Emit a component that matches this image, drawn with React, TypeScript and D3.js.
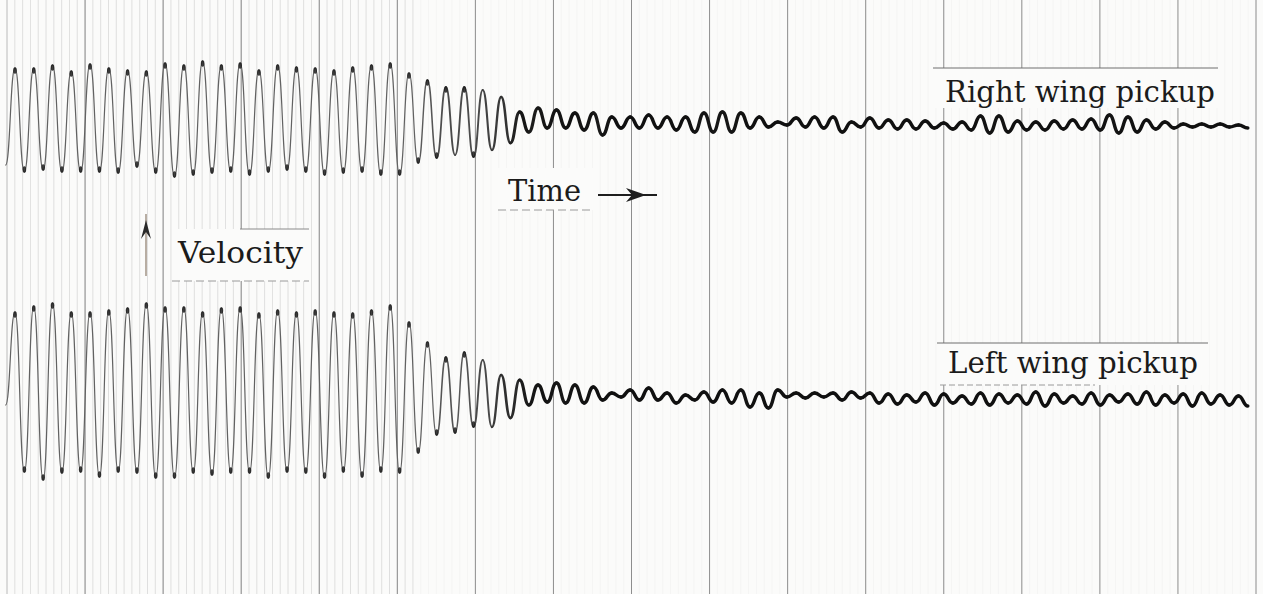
import * as d3 from "d3";

const W = 1263;
const H = 594;

// Deflection at each peak / trough of the oscillation (record units, + = up).
// Right wing pickup (upper trace): peaks for cycles 0..66
const rightPeaks = [
  52, 52, 55, 49, 56, 52, 50, 49, 57, 55, 59, 55, 57, 50, 55, 53, 52, 50, 53, 55, 57, 47,
  40, 33, 33, 30, 23, 8, 12, 10, 7, 7, 3, 3, 5, 3, 3, 7, 8, 7, 3, -2, 2, 3, 3, -2, 2,
  0, 0, -1, -3, -2, 4, 4, -1, -2, -1, 0, 1, 5, 3, 0, -2, -4, -4, -4, -5,
];
// troughs for half-cycles -0.5..66.5 (first value = start of the trace)
const rightTroughs = [
  -45,
  -52, -50, -52, -52, -52, -53, -47, -53, -57, -55, -53, -52, -55, -52, -50, -52, -55, -53, -52, -55, -55,
  -43, -38, -35, -37, -30, -23, -12, -8, -8, -10, -15, -8, -8, -8, -10, -12, -12, -12, -8, -7, -5, -7, -8, -12, -7,
  -8, -9, -9, -8, -9, -10, -13, -12, -10, -10, -9, -9, -10, -13, -12, -9, -8, -7, -7, -7, -8,
];

// Left wing pickup (lower trace)
const leftPeaks = [
  88, 94, 97, 88, 88, 90, 92, 97, 93, 93, 88, 92, 93, 87, 90, 88, 90, 88, 87, 90, 95, 78,
  58, 43, 48, 40, 25, 20, 15, 17, 15, 13, 7, 10, 12, 7, 5, 8, 10, 10, 7, 10, 7, 7, 7, 8, 7,
  6, 5, 7, 6, 4, 7, 6, 5, 8, 6, 4, 7, 5, 6, 8, 5, 6, 7, 5, 4,
];
const leftTroughs = [
  -5,
  -72, -80, -73, -72, -77, -72, -73, -78, -78, -73, -75, -73, -73, -78, -72, -73, -78, -72, -77, -72, -73,
  -53, -35, -33, -27, -27, -18, -5, -2, -3, -3, 0, 3, 0, 0, -3, 0, -2, -3, -7, -8, 3, 2, 3, 0, 2,
  -3, -4, -2, -5, -3, -4, -5, -3, -4, -6, -3, -4, -5, -2, -4, -5, -3, -6, -4, -5, -6,
];

// cycle numbers where the film speed changes slightly
const cycleKnots = [0, 21, 67];
// major timing lines on the record
const timingLines = [0, 1, 2, 3, 4, 5, 6, 7, 8, 9, 10, 11, 12, 13, 14, 15, 16];

type Pt = { t: number; v: number };

function toPoints(peaks: number[], troughs: number[]): Pt[] {
  const pts: Pt[] = [];
  troughs.forEach((v, k) => {
    pts.push({ t: k - 0.5, v });
    if (k < peaks.length) pts.push({ t: k, v: peaks[k] });
  });
  return pts;
}

const x = d3.scaleLinear().domain(cycleKnots).range([15, 409, 1257]);
const xTime = d3.scaleLinear().domain([0, 16]).range([7, 1256]);
const yRight = d3.scaleLinear().domain([-60, 60]).range([180, 60]);
const yLeft = d3.scaleLinear().domain([-90, 90]).range([490, 310]);

const widthOf = d3.scaleLinear().domain([14, 90]).range([3.5, 1.2]).clamp(true);
const colorOf = d3.scaleLinear<string>().domain([14, 90]).range(["#101010", "#626262"]).clamp(true);

function Trace({ pts, y }: { pts: Pt[]; y: d3.ScaleLinear<number, number> }) {
  const seg = d3
    .line<Pt>()
    .x((d) => x(d.t))
    .y((d) => y(d.v))
    .curve(d3.curveBumpX);
  const pairs = d3.pairs(pts);
  return (
    <g>
      {pairs.map(([a, b], i) => {
        const s = Math.abs(b.v - a.v);
        return (
          <path
            key={i}
            d={seg([a, b]) ?? ""}
            fill="none"
            stroke={colorOf(s)}
            strokeWidth={widthOf(s)}
            strokeLinecap="round"
          />
        );
      })}
      {/* dark blobs where the spot dwells at the extremes */}
      {pts.map((p, i) => {
        const prev = pts[i - 1];
        const next = pts[i + 1];
        const swing = Math.max(prev ? Math.abs(p.v - prev.v) : 0, next ? Math.abs(p.v - next.v) : 0);
        if (swing < 70 || i === 0) return null;
        const up = (next ?? prev).v < p.v;
        return (
          <ellipse
            key={i}
            cx={x(p.t)}
            cy={y(p.v) + (up ? 2.5 : -2.5)}
            rx={1.8}
            ry={3.2}
            fill="#1c1c1c"
            opacity={0.85}
          />
        );
      })}
    </g>
  );
}

export default function App() {
  const minor = xTime.ticks(160);
  const right = toPoints(rightPeaks, rightTroughs);
  const left = toPoints(leftPeaks, leftTroughs);
  const font = "'DejaVu Serif', serif";

  return (
    <svg
      width={W}
      height={H}
      style={{ position: "absolute", left: 0, top: 0, display: "block" }}
    >
      <rect width={W} height={H} fill="#fbfbfa" />

      {/* fine timing lines */}
      {minor.map((t, i) => (
        <line
          key={i}
          x1={xTime(t)}
          x2={xTime(t)}
          y1={0}
          y2={H}
          stroke="#9a9a9a"
          strokeWidth={0.8}
          opacity={xTime(t) < 420 ? 0.35 : 0.07}
        />
      ))}
      {/* major timing lines */}
      {timingLines.map((t) => (
        <line
          key={t}
          x1={xTime(t)}
          x2={xTime(t)}
          y1={0}
          y2={H}
          stroke="#7d7d7d"
          strokeWidth={1}
          opacity={t === 0 ? 0.3 : 0.85}
        />
      ))}

      {/* label boxes */}
      <rect x={933} y={68} width={286} height={40} fill="#fbfbfa" />
      <line x1={933} x2={1218} y1={68} y2={68} stroke="#6f6f6f" />
      <text x={945} y={102} fontFamily={font} fontSize={29} fill="#1b1b1b" textLength={270} lengthAdjust="spacingAndGlyphs">
        Right wing pickup
      </text>

      <rect x={937} y={343} width={272} height={42} fill="#fbfbfa" />
      <line x1={937} x2={1208} y1={343} y2={343} stroke="#6f6f6f" />
      <line x1={940} x2={1095} y1={385} y2={385} stroke="#9a9a9a" strokeDasharray="6 3" />
      <text x={948} y={373} fontFamily={font} fontSize={29} fill="#1b1b1b" textLength={250} lengthAdjust="spacingAndGlyphs">
        Left wing pickup
      </text>

      <rect x={172} y={229} width={138} height={52} fill="#fbfbfa" />
      <line x1={240} x2={309} y1={229} y2={229} stroke="#8a8a8a" />
      <line x1={172} x2={309} y1={281} y2={281} stroke="#9a9a9a" strokeDasharray="8 4" />
      <text x={178} y={263} fontFamily={font} fontSize={29} fill="#1b1b1b" textLength={125} lengthAdjust="spacingAndGlyphs">
        Velocity
      </text>
      {/* velocity arrow */}
      <line x1={146} x2={146} y1={214} y2={276} stroke="#9b8c7c" strokeWidth={1.4} />
      <path d="M146,220 L141,239 L146,232 L151,239 Z" fill="#2a2a2a" />

      <rect x={498} y={168} width={97} height={42} fill="#fbfbfa" />
      <line x1={498} x2={594} y1={210} y2={210} stroke="#9a9a9a" strokeDasharray="8 4" />
      <text x={508} y={201} fontFamily={font} fontSize={29} fill="#1b1b1b" textLength={73} lengthAdjust="spacingAndGlyphs">
        Time
      </text>
      <line x1={598} x2={657} y1={195} y2={195} stroke="#1e1e1e" strokeWidth={2.2} />
      <path d="M626,188 L646,195 L626,202 L632,195 Z" fill="#1e1e1e" />

      <Trace pts={right} y={yRight} />
      <Trace pts={left} y={yLeft} />
    </svg>
  );
}
